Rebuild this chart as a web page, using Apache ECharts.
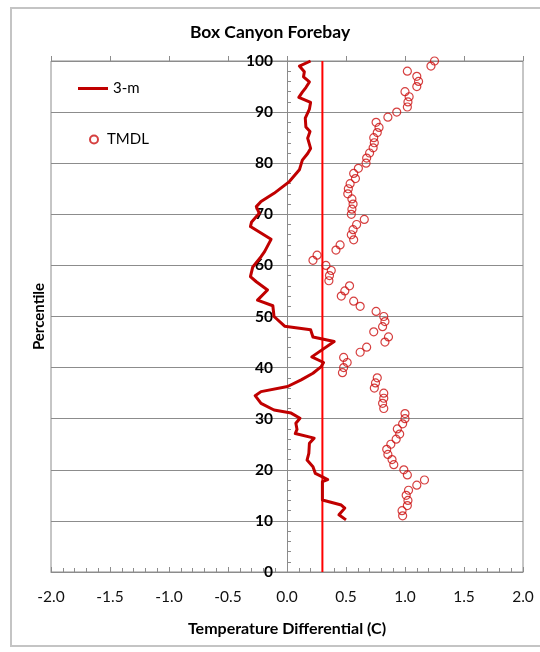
<!DOCTYPE html>
<html>
<head>
<meta charset="utf-8">
<title>Box Canyon Forebay</title>
<script src="https://cdn.jsdelivr.net/npm/echarts@6/dist/echarts.min.js"></script>
<style>
  html, body { margin: 0; padding: 0; background: #fff; }
  #chart { width: 540px; height: 652px; }
</style>
</head>
<body>
<div id="chart"></div>
<script>
// Axis ranges and tick labels
const xTicks = [-2.0, -1.5, -1.0, -0.5, 0.0, 0.5, 1.0, 1.5, 2.0];
const yTicks = [0, 10, 20, 30, 40, 50, 60, 70, 80, 90, 100];

// 3-m profile: temperature differential (C) and percentile
const lineDiff = [0.50, 0.44, 0.49, 0.46, 0.30, 0.30, 0.30, 0.345, 0.30, 0.24, 0.22, 0.17, 0.185, 0.19, 0.23, 0.07,
  0.085, 0.075, 0.11, 0.035, -0.11, -0.22, -0.27, -0.22, 0.005, 0.12, 0.22, 0.29, 0.31, 0.21, 0.40, 0.22, 0.20,
  -0.02, -0.11, -0.12, -0.25, -0.165, -0.26, -0.31, -0.29, -0.22, -0.19, -0.135, -0.31, -0.30, -0.235, -0.26,
  -0.22, -0.11, 0.02, 0.105, 0.13, 0.175, 0.20, 0.175, 0.195, 0.16, 0.155, 0.19, 0.20, 0.10, 0.13, 0.16, 0.19,
  0.14, 0.147, 0.105, 0.20];
const linePct = [10.2, 11.2, 12.5, 13.1, 14.1, 16.0, 17.7, 18.1, 18.6, 19.3, 20.6, 21.9, 23.2, 25.2, 26.2, 27.1,
  27.9, 29.1, 30.1, 31.1, 31.7, 33.0, 34.5, 35.3, 36.3, 37.6, 38.9, 40.2, 41.0, 42.1, 45.1, 46.0, 47.4,
  48.1, 50.0, 52.1, 53.2, 55.2, 56.8, 57.8, 59.7, 61.7, 62.7, 65.1, 67.6, 68.5, 70.2, 71.5,
  72.5, 74.1, 76.4, 78.7, 80.6, 81.9, 82.9, 84.9, 86.2, 87.1, 88.8, 90.6, 91.9, 92.9, 93.9, 94.8, 95.9,
  96.9, 97.9, 99.0, 100.0];

// TMDL points: percentiles 11..100 and their differentials
const tmdlPct = [];
for (let p = 11; p <= 100; p++) tmdlPct.push(p);
const tmdlDiff = [
  0.98, 0.975, 1.02, 1.025, 1.01, 1.03, 1.10, 1.165, 1.02, 0.99,      // 11-20
  0.905, 0.89, 0.855, 0.845, 0.88, 0.925, 0.955, 0.935, 0.98, 1.00,   // 21-30
  1.00, 0.82, 0.81, 0.82, 0.82, 0.74, 0.75, 0.765, 0.47, 0.48,        // 31-40
  0.51, 0.48, 0.62, 0.675, 0.83, 0.86, 0.735, 0.81, 0.83, 0.82,       // 41-50
  0.755, 0.62, 0.565, 0.46, 0.49, 0.53, 0.355, 0.36, 0.375, 0.33,     // 51-60
  0.22, 0.255, 0.415, 0.45, 0.565, 0.545, 0.56, 0.59, 0.655, 0.545,   // 61-70
  0.55, 0.56, 0.55, 0.515, 0.52, 0.535, 0.58, 0.565, 0.605, 0.67,     // 71-80
  0.675, 0.70, 0.73, 0.74, 0.735, 0.765, 0.78, 0.755, 0.855, 0.93,    // 81-90
  1.02, 1.025, 1.035, 1.00, 1.10, 1.115, 1.10, 1.02, 1.22, 1.25       // 91-100
];

// Reference threshold line
const thresholdDiff = 0.3;
const thresholdPct = [0, 100];

const FONT = 'Lato';
const GRID_GRAY = '#8c8c8c';
const DARK_RED = '#C00000';

const GRID = { left: 51, right: 17, top: 61, bottom: 80 };
const CHART_W = 540;

const chart = echarts.init(document.getElementById('chart'), null, { renderer: 'canvas' });

const xMin = xTicks[0], xMax = xTicks[xTicks.length - 1], xStep = xTicks[1] - xTicks[0];
const yMin = yTicks[0], yMax = yTicks[yTicks.length - 1], yStep = yTicks[1] - yTicks[0];

// The percentile axis sits at a differential of zero; shift it right from the grid's left edge
const plotW = CHART_W - GRID.left - GRID.right;
const yAxisShift = -plotW * (0 - xMin) / (xMax - xMin);

chart.setOption({
  backgroundColor: '#fff',
  animation: false,
  textStyle: { fontFamily: FONT },
  title: {
    text: 'Box Canyon Forebay',
    left: 'center',
    top: 18,
    textStyle: { fontFamily: FONT, fontSize: 17.5, fontWeight: 'bold', color: '#000' }
  },
  graphic: [{
    type: 'rect',
    shape: { x: 11, y: 8, width: 600, height: 638 },
    style: { fill: 'none', stroke: '#c4c4c4', lineWidth: 2 },
    silent: true
  }],
  legend: [{
    data: [{ name: '3-m', icon: 'rect' }],
    left: 78, top: 81, padding: 0,
    itemWidth: 30, itemHeight: 3,
    textStyle: { fontFamily: FONT, fontSize: 15, color: '#000' }
  }, {
    data: [{ name: 'TMDL', icon: 'circle' }],
    left: 89, top: 132, padding: 0,
    itemWidth: 16, itemHeight: 8,
    textStyle: { fontFamily: FONT, fontSize: 15, color: '#000' }
  }],
  grid: {
    left: GRID.left, right: GRID.right, top: GRID.top, bottom: GRID.bottom,
    show: true, borderColor: GRID_GRAY, borderWidth: 1,
    containLabel: false, outerBoundsMode: 'none'
  },
  xAxis: [{
    type: 'value', min: xMin, max: xMax, interval: xStep,
    axisLine: { onZero: false, lineStyle: { color: GRID_GRAY, width: 1 } },
    axisTick: { show: true, inside: true, length: 5, lineStyle: { color: GRID_GRAY } },
    minorTick: { show: true, splitNumber: 5, length: 4, lineStyle: { color: GRID_GRAY } },
    splitLine: { show: false },
    axisLabel: {
      margin: 17, fontFamily: FONT, fontSize: 15.5, color: '#111',
      formatter: v => v.toFixed(1)
    },
    name: 'Temperature Differential (C)',
    nameLocation: 'middle', nameGap: 49,
    nameTextStyle: { fontFamily: FONT, fontSize: 16, fontWeight: 'bold', color: '#000' }
  }, {
    type: 'value', min: xMin, max: xMax, interval: xStep,
    axisLine: { show: false, onZero: false },
    axisTick: { show: true, inside: false, length: 5, lineStyle: { color: GRID_GRAY } },
    axisLabel: { show: false },
    splitLine: { show: false }
  }],
  yAxis: {
    type: 'value', min: yMin, max: yMax, interval: yStep,
    offset: yAxisShift,
    axisLine: { show: true, onZero: false, lineStyle: { color: GRID_GRAY, width: 1 } },
    axisTick: { show: true, inside: true, length: 4, lineStyle: { color: GRID_GRAY } },
    minorTick: { show: true, splitNumber: 5, length: 4, lineStyle: { color: GRID_GRAY } },
    splitLine: { show: true, lineStyle: { color: GRID_GRAY, width: 1 } },
    axisLabel: { margin: 14, fontFamily: FONT, fontSize: 15.5, fontWeight: 'bold', color: '#000' },
    name: 'Percentile',
    nameLocation: 'middle', nameGap: 240,
    nameTextStyle: { fontFamily: FONT, fontSize: 15, fontWeight: 'bold', color: '#000' }
  },
  series: [{
    name: 'threshold',
    type: 'line',
    xAxisIndex: 0,
    data: thresholdPct.map(p => [thresholdDiff, p]),
    symbol: 'none',
    lineStyle: { color: '#FF0000', width: 2 },
    itemStyle: { color: '#FF0000' },
    z: 2,
    silent: true
  }, {
    name: '3-m',
    type: 'line',
    xAxisIndex: 0,
    data: lineDiff.map((d, i) => [d, linePct[i]]),
    symbol: 'none',
    lineStyle: { color: DARK_RED, width: 3, join: 'round' },
    itemStyle: { color: DARK_RED },
    z: 3
  }, {
    name: 'TMDL',
    type: 'scatter',
    xAxisIndex: 0,
    data: tmdlDiff.map((d, i) => [d, tmdlPct[i]]),
    symbol: 'circle',
    symbolSize: 8,
    itemStyle: { color: 'rgba(255,255,255,0)', borderColor: '#CC1010', borderWidth: 1.2 },
    z: 4
  }]
});
</script>
</body>
</html>
